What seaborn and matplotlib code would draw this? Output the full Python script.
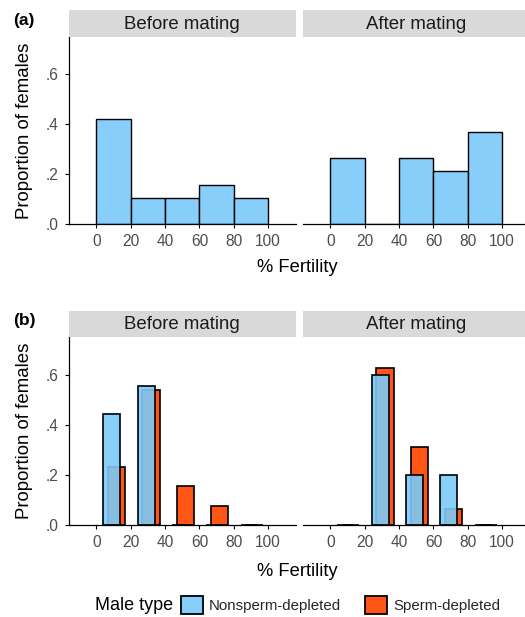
import matplotlib
matplotlib.use("Agg")
import matplotlib.pyplot as plt
import seaborn as sns
from matplotlib.patches import Patch
from matplotlib.ticker import FuncFormatter

# ---- data -------------------------------------------------------------
bin_edges = [0, 20, 40, 60, 80, 100]
bin_mids = [10, 30, 50, 70, 90]
periods = ["Before mating", "After mating"]

# (a) proportion of all females per fertility class
prop_all_before = [0.421, 0.105, 0.105, 0.158, 0.105]
prop_all_after = [0.263, 0.0, 0.263, 0.211, 0.368]

# (b) split by the type of male the female mated with
male_types = ["Nonsperm-depleted", "Sperm-depleted"]
prop_nsd_before = [0.444, 0.556, 0.0, 0.0, 0.0]
prop_sd_before = [0.231, 0.538, 0.154, 0.077, 0.0]
prop_nsd_after = [0.0, 0.600, 0.200, 0.200, 0.0]
prop_sd_after = [0.0, 0.625, 0.3125, 0.0625, 0.0]

x_ticks = [0, 20, 40, 60, 80, 100]
y_ticks = [0.0, 0.2, 0.4, 0.6]

# ---- style ------------------------------------------------------------
sns.set_theme(style="white")
plt.rcParams["font.family"] = ["Liberation Sans", "DejaVu Sans"]

BLUE_A = "#87CEFA"
BLUE_B = (124 / 255, 202 / 255, 249 / 255)
ORANGE = "#FF5515"
STRIP = "#D9D9D9"
TICK_GREY = "#4D4D4D"

W, H = 525, 617
fig = plt.figure(figsize=(W / 100, H / 100), dpi=100)


def px_axes(x0, y0, x1, y1):
    """Axes from pixel box (top-left origin)."""
    return fig.add_axes([x0 / W, 1 - y1 / H, (x1 - x0) / W, (y1 - y0) / H])


def strip(x0, y0, x1, y1, label):
    s = px_axes(x0, y0, x1, y1)
    s.set_facecolor(STRIP)
    s.set_xticks([])
    s.set_yticks([])
    for sp in s.spines.values():
        sp.set_visible(False)
    s.text(0.5, 0.47, label, ha="center", va="center", fontsize=13.4,
           color="#1A1A1A", transform=s.transAxes)


def style_panel(ax, left):
    ax.set_xlim(-16, 116)
    ax.set_ylim(0, 0.75)
    ax.set_xticks(x_ticks)
    ax.set_xlabel("")
    ax.set_ylabel("")
    ax.set_facecolor("none")
    for side in ("top", "right"):
        ax.spines[side].set_visible(False)
    ax.spines["bottom"].set_linewidth(0.9)
    ax.spines["bottom"].set_color("black")
    ax.tick_params(axis="x", length=3, width=0.8, color="black",
                   labelsize=11.2, labelcolor=TICK_GREY, pad=4.5, bottom=True)
    if left:
        ax.spines["left"].set_linewidth(0.9)
        ax.spines["left"].set_color("black")
        ax.set_yticks(y_ticks)
        ax.yaxis.set_major_formatter(FuncFormatter(lambda v, _: f"{v:.1f}".lstrip("0")))
        ax.tick_params(axis="y", length=3, width=0.8, color="black",
                       labelsize=11.2, labelcolor=TICK_GREY, pad=4.5, left=True)
    else:
        ax.spines["left"].set_visible(False)
        ax.set_yticks([])


panel_cols = [(69, 295.5), (303, 529.5)]

# ---- (a) ---------------------------------------------------------------
a_top, a_bot = 37, 224
for (x0, x1), label, vals, left in zip(panel_cols, periods,
                                       [prop_all_before, prop_all_after],
                                       [True, False]):
    ax = px_axes(x0, a_top, x1, a_bot)
    sns.histplot(x=bin_mids, weights=vals, bins=bin_edges, ax=ax,
                 color=BLUE_A, alpha=1, edgecolor="black", linewidth=1.0)
    style_panel(ax, left)
    strip(x0, 10, x1, a_top, label)

# ---- (b) ---------------------------------------------------------------
b_top, b_bot = 337, 525
dodge = {"Nonsperm-depleted": -1.0, "Sperm-depleted": 1.8}
series_b = [
    (prop_nsd_before, prop_sd_before),
    (prop_nsd_after, prop_sd_after),
]
for (x0, x1), label, (nsd, sd), left in zip(panel_cols, periods, series_b,
                                           [True, False]):
    ax = px_axes(x0, b_top, x1, b_bot)
    sd_bins = [e + dodge["Sperm-depleted"] for e in bin_edges]
    nsd_bins = [e + dodge["Nonsperm-depleted"] for e in bin_edges]
    sns.histplot(x=bin_mids, weights=sd, bins=sd_bins, shrink=0.5, ax=ax,
                 color=ORANGE, alpha=1, edgecolor="black", linewidth=1.2)
    sns.histplot(x=bin_mids, weights=nsd, bins=nsd_bins, shrink=0.5, ax=ax,
                 color=BLUE_B, alpha=0.9, edgecolor="black", linewidth=1.2)
    style_panel(ax, left)
    strip(x0, 311, x1, b_top, label)

# ---- shared labels ------------------------------------------------------
for yc in [(a_top + a_bot) / 2, (b_top + b_bot) / 2]:
    fig.text(24.5 / W, 1 - yc / H, "Proportion of females", rotation=90,
             ha="center", va="center", fontsize=13.4, color="black")
for yc in [268, 571]:
    fig.text(297 / W, 1 - yc / H, "% Fertility", ha="center", va="center",
             fontsize=13.2, color="black")
fig.text(24 / W, 1 - 21 / H, "(a)", ha="center", va="center",
         fontsize=12.5, fontweight="bold", color="black")
fig.text(24 / W, 1 - 321 / H, "(b)", ha="center", va="center",
         fontsize=12.5, fontweight="bold", color="black")

# ---- legend -------------------------------------------------------------
fig.text(95 / W, 1 - 605 / H, "Male type", ha="left", va="center",
         fontsize=13, color="black")
handles = [
    Patch(facecolor=BLUE_A, edgecolor="black", linewidth=1.3),
    Patch(facecolor=ORANGE, edgecolor="black", linewidth=1.3),
]
fig.legend(handles, male_types, loc="center left",
           bbox_to_anchor=(178 / W, 1 - 605 / H), ncol=2, frameon=False,
           fontsize=10.8, handlelength=1.47, handleheight=1.53,
           handletextpad=0.4, columnspacing=1.6, borderpad=0.2,
           borderaxespad=0)

fig.savefig("out.png", dpi=100)
